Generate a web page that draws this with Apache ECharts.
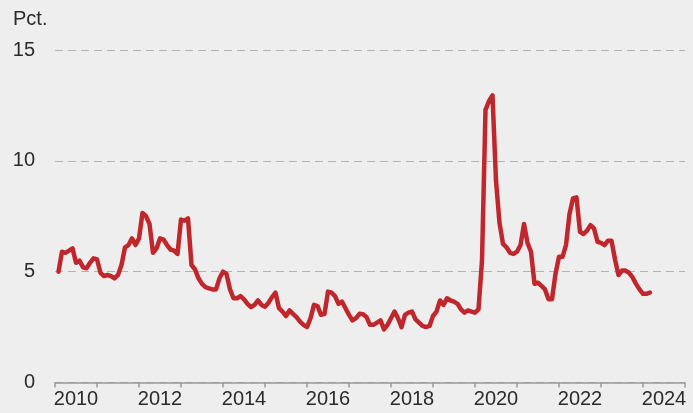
<!DOCTYPE html>
<html>
<head>
<meta charset="utf-8">
<script src="https://cdn.jsdelivr.net/npm/echarts@6/dist/echarts.min.js"></script>
<style>
html,body{margin:0;padding:0;background:#eeeeee;}
#c{width:693px;height:413px;}
</style>
</head>
<body>
<div id="c"></div>
<script>
// Category labels (years) for the x axis
var years = ['2010','2011','2012','2013','2014','2015','2016','2017','2018','2019','2020','2021','2022','2023','2024'];
// Y tick values
var yTicks = [0, 5, 10, 15];
var yUnit = 'Pct.';
// Monthly values, starting January 2010
var startYear = 2010;
var values = [
 5.0,5.9,5.85,5.95,6.05,5.4,5.5,5.2,5.15,5.4,5.6,5.55,
 4.95,4.8,4.85,4.8,4.7,4.85,5.3,6.1,6.2,6.5,6.2,6.5,
 7.65,7.5,7.15,5.85,6.05,6.5,6.45,6.2,6.0,5.95,5.8,7.35,
 7.3,7.4,5.3,5.1,4.7,4.45,4.3,4.25,4.2,4.2,4.7,5.0,
 4.9,4.2,3.8,3.8,3.9,3.75,3.55,3.4,3.5,3.7,3.5,3.42,
 3.6,3.85,4.05,3.35,3.2,3.0,3.25,3.1,2.95,2.75,2.6,2.5,
 2.9,3.5,3.45,3.05,3.1,4.1,4.05,3.9,3.55,3.65,3.35,3.05,
 2.8,2.9,3.1,3.08,2.95,2.6,2.6,2.7,2.8,2.4,2.6,2.9,
 3.2,2.9,2.5,3.05,3.15,3.2,2.85,2.7,2.55,2.5,2.55,3.0,
 3.2,3.7,3.5,3.8,3.7,3.65,3.55,3.3,3.15,3.25,3.2,3.15,
 3.3,5.5,12.3,12.7,12.95,9.1,7.2,6.25,6.1,5.85,5.8,5.9,
 6.2,7.15,6.3,5.9,4.45,4.5,4.36,4.2,3.76,3.76,4.9,5.67,
 5.67,6.2,7.6,8.3,8.35,6.8,6.7,6.85,7.1,6.95,6.35,6.3,
 6.2,6.4,6.4,5.55,4.85,5.05,5.05,4.95,4.75,4.45,4.2,4.0,
 4.0,4.06
];

var seriesData = values.map(function(v, i){ return [startYear + (i + 1) / 12, v]; });

var chart = echarts.init(document.getElementById('c'), null, {renderer:'canvas'});
var font = 'Liberation Sans, Arial, sans-serif';
chart.setOption({
  backgroundColor: '#eeeeee',
  animation: false,
  grid: {left: 55, right: 8, top: 50, bottom: 30.5, containLabel: false},
  graphic: [{
    type: 'text', left: 13, top: 9,
    style: {text: yUnit, font: '20px ' + font, fill: '#2b2b2b'}
  }],
  xAxis: [{
    type: 'category',
    data: years,
    boundaryGap: true,
    axisLine: {show: true, lineStyle: {color: '#999999', width: 1.5}},
    axisTick: {show: true, interval: 0, length: 5, lineStyle: {color: '#999999', width: 1.5}},
    axisLabel: {interval: 1, margin: 7, color: '#2b2b2b', fontSize: 20, fontFamily: font},
    splitLine: {show: false}
  }, {
    type: 'value',
    min: 2010, max: 2025,
    show: false
  }],
  yAxis: {
    type: 'value',
    min: yTicks[0], max: yTicks[yTicks.length - 1], interval: 5,
    axisLine: {show: false},
    axisTick: {show: false},
    axisLabel: {margin: 20, color: '#2b2b2b', fontSize: 20, fontFamily: font},
    splitLine: {show: true, lineStyle: {color: '#b3b3b3', type: [8, 5], width: 1.2}}
  },
  series: [{
    type: 'line',
    xAxisIndex: 1,
    data: seriesData,
    showSymbol: false,
    lineStyle: {color: '#c0272d', width: 4.5, join: 'round', cap: 'round'},
    z: 3
  }]
});
</script>
</body>
</html>
